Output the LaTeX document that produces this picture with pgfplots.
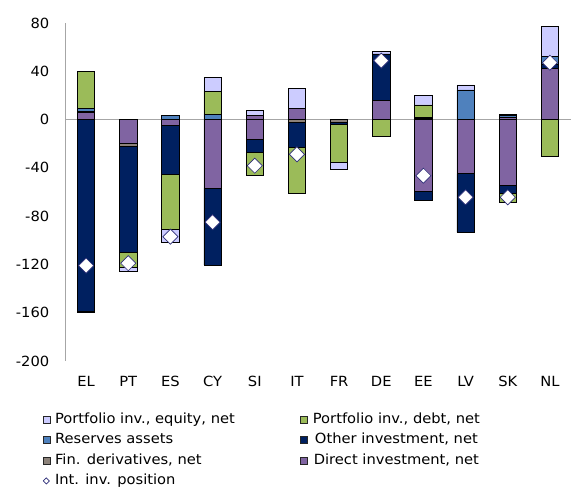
\documentclass[border=0pt]{standalone}
\usepackage{pgfplots}
\pgfplotsset{compat=1.18}
\usepackage{pgfplotstable}
\usepackage{fontspec}
\setmainfont{DejaVu Sans}[FakeStretch=1.05]
\newcommand\cf{\fontsize{10.5}{12.6}\selectfont}
\definecolor{cEq}{RGB}{204,204,255}
\definecolor{cDebt}{RGB}{155,187,89}
\definecolor{cRes}{RGB}{79,129,189}
\definecolor{cOth}{RGB}{0,32,96}
\definecolor{cDer}{RGB}{140,130,122}
\definecolor{cDI}{RGB}{128,100,162}
\definecolor{cDia}{RGB}{45,45,120}
\definecolor{cAx}{RGB}{166,166,166}

% positive parts: DI, derivatives, other inv., reserves, portfolio debt, portfolio equity
\pgfplotstableread{
x di dv oi ra pd pe
0 6 1 0 2 31 0
1 0 0 0 0 0 0
2 0 0 0 3.5 0 0
3 0 0 0 4.5 19 11.5
4 3.2 0 0 0 0 4.2
5 9.4 0 0 0 0 16.2
6 0 0 0 0 0 0
7 15.7 0 38.7 0 0 2.2
8 1 0 0.9 0 10.2 8
9 0 0 0 24.6 0 4.1
10 2 0 0 1.5 0 1
11 42.5 0 3.6 6.1 0 25.1
}\pos
% negative parts
\pgfplotstableread{
x di dv oi ra pd pe
0 0 0 -158.5 0 0 -1.5
1 -19.8 -2 -87.8 0 -12.4 -4.1
2 -5 0 -40 0 -46 -11
3 -56.6 0 -63.8 0 0 0
4 -16 0 -11 0 -19 0
5 0 -2 -21 0 -38 0
6 0 -2.2 -2 0 -31.3 -5.7
7 0 0 0 0 -13.8 0
8 -59.4 0 -7.7 0 0 0
9 -44.8 0 -48.6 0 0 0
10 -54.2 0 -6.9 0 -7.7 0
11 0 0 0 0 -30.4 0
}\neg
% international investment position
\pgfplotstableread{
x v
0 -121
1 -119
2 -97
3 -85
4 -38.2
5 -28.8
7 48.8
8 -46.5
9 -64.4
10 -64.4
11 47.1
}\iip

\pgfplotsset{common/.style={scale only axis, width=379.5pt, height=253.5pt,
  xmin=-0.5, xmax=11.5, ymin=-200, ymax=80}}
\newcommand\legsq[1]{\addlegendimage{legend image code/.code={\draw[fill=#1,draw=black!85,line width=0.4pt] (0pt,-2.6pt) rectangle (5.2pt,2.6pt);}}}

\begin{document}
\begin{tikzpicture}
\begin{axis}[name=ax, common, ybar stacked, bar width=13pt, stacked ignores zero,
  axis line style={draw=none}, major tick length=0pt,
  xtick={0,...,11}, xticklabels={EL,PT,ES,CY,SI,IT,FR,DE,EE,LV,SK,NL},
  ytick={-200,-160,-120,-80,-40,0,40,80},
  yticklabels={-200,-160,-120,-80,-40,0,40,80},
  tick label style={font=\cf},
  xticklabel style={yshift=-8pt},
  yticklabel style={xshift=-8.3pt}]
\addplot[fill=cDI, draw=black, line width=0.5pt] table[x=x,y=di]{\pos};
\addplot[fill=cDer, draw=black, line width=0.5pt] table[x=x,y=dv]{\pos};
\addplot[fill=cOth, draw=black, line width=0.5pt] table[x=x,y=oi]{\pos};
\addplot[fill=cRes, draw=black, line width=0.5pt] table[x=x,y=ra]{\pos};
\addplot[fill=cDebt, draw=black, line width=0.5pt] table[x=x,y=pd]{\pos};
\addplot[fill=cEq, draw=black, line width=0.5pt] table[x=x,y=pe]{\pos};
\end{axis}
\begin{axis}[common, ybar stacked, bar width=13pt, stacked ignores zero, hide axis]
\addplot[fill=cDI, draw=black, line width=0.5pt] table[x=x,y=di]{\neg};
\addplot[fill=cDer, draw=black, line width=0.5pt] table[x=x,y=dv]{\neg};
\addplot[fill=cOth, draw=black, line width=0.5pt] table[x=x,y=oi]{\neg};
\addplot[fill=cRes, draw=black, line width=0.5pt] table[x=x,y=ra]{\neg};
\addplot[fill=cDebt, draw=black, line width=0.5pt] table[x=x,y=pd]{\neg};
\addplot[fill=cEq, draw=black, line width=0.5pt] table[x=x,y=pe]{\neg};
\draw[cAx, line width=0.8pt] (axis cs:-0.5,0) -- (axis cs:11.5,0);
\draw[cAx, line width=0.8pt] (axis cs:-0.5,-200) -- (axis cs:-0.5,80);
\end{axis}
\begin{axis}[common, hide axis,
  legend columns=2,
  legend style={draw=none, fill=none, font=\cf, inner sep=0pt,
    at={(0,0)}, anchor=north west, xshift=-17pt, yshift=-36.2pt,
    nodes={text height=8pt, text depth=2.5pt, inner ysep=2.4pt, inner xsep=3pt},
    /tikz/every odd column/.append style={column sep=0.75pt},
    /tikz/every even column/.append style={column sep=0pt}}]
\legsq{cEq}\addlegendentry{\makebox[181pt][l]{Portfolio inv., equity, net}}
\legsq{cDebt}\addlegendentry{Portfolio inv., debt, net}
\legsq{cRes}\addlegendentry{\makebox[181pt][l]{Reserves assets}}
\legsq{cOth}\addlegendentry{Other investment, net}
\legsq{cDer}\addlegendentry{\makebox[181pt][l]{Fin. derivatives, net}}
\legsq{cDI}\addlegendentry{Direct investment, net}
\addplot[only marks, mark=square*, mark size=4pt,
  mark options={rotate=45, fill=white, draw=cDia, line width=0.5pt},
  legend image code/.code={\draw[cDia, fill=white, line width=0.5pt] (0.3pt,0pt) -- (2.6pt,2.3pt) -- (4.9pt,0pt) -- (2.6pt,-2.3pt) -- cycle;}] table[x=x,y=v]{\iip};
\addlegendentry{\makebox[181pt][l]{Int. inv. position}}
\end{axis}
\pgfresetboundingbox
\path ([xshift=-48.75pt,yshift=-95.25pt]ax.south west) rectangle ([yshift=17.25pt]ax.north east);
\end{tikzpicture}
\end{document}
